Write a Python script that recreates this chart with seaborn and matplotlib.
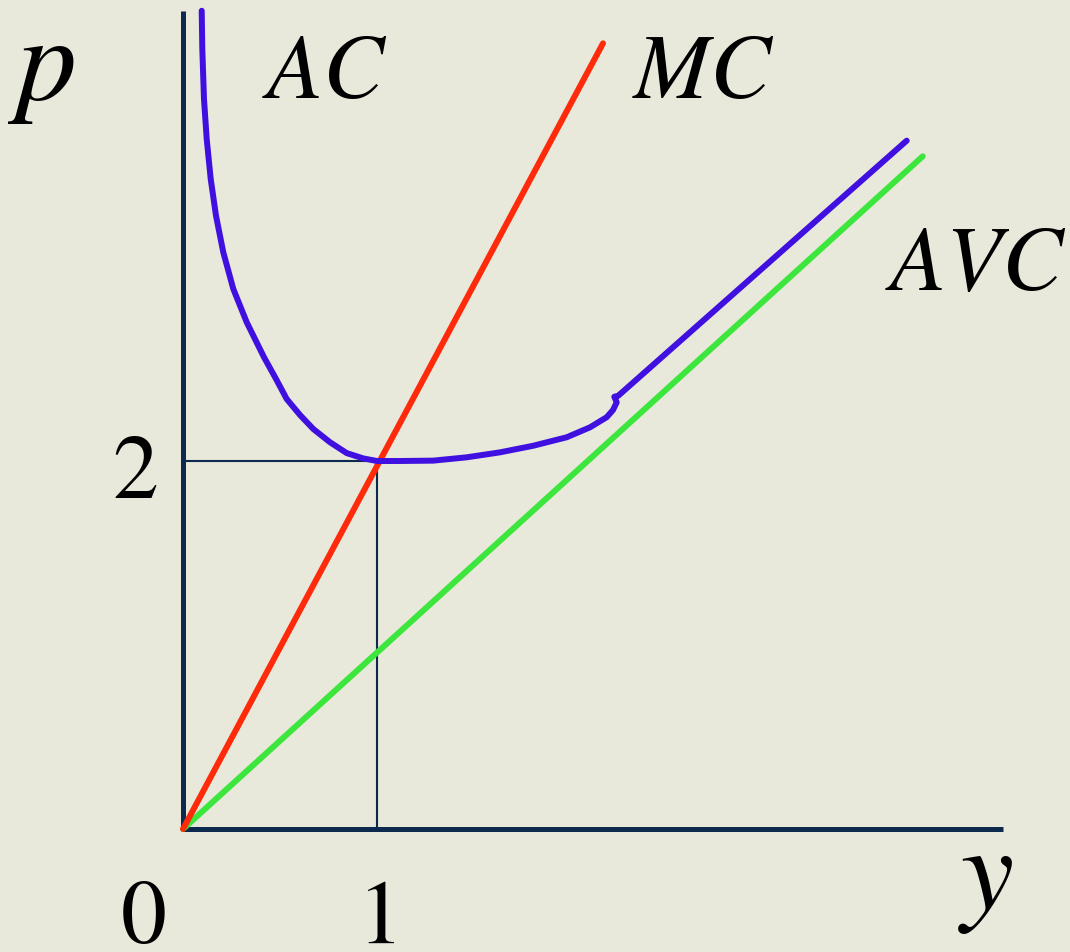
import matplotlib
matplotlib.use("Agg")
import matplotlib.pyplot as plt
import seaborn as sns
import pandas as pd

# Cost curves of a firm: output y against price / cost p
mc_y = [0.0, 2.165]
mc_p = [0.0, 4.27]

avc_y = [0.0, 3.813]
avc_p = [0.0, 3.656]

ac_y = [0.0964, 0.0995, 0.1082, 0.1222, 0.1428, 0.1701, 0.2077, 0.2593, 0.3284,
        0.4175, 0.4794, 0.5345, 0.6031, 0.6716, 0.7577, 0.8438, 0.9294, 1.0,
        1.1186, 1.2902, 1.4624, 1.6340, 1.8057, 1.9778, 2.0979, 2.1840, 2.2165,
        2.2356, 2.2232, 2.2438, 3.7304]
ac_p = [4.447, 4.239, 3.967, 3.750, 3.533, 3.333, 3.134, 2.935, 2.754,
        2.564, 2.446, 2.337, 2.250, 2.174, 2.102, 2.043, 2.014, 2.0,
        2.0, 2.002, 2.020, 2.047, 2.083, 2.129, 2.183, 2.238, 2.277,
        2.319, 2.349, 2.355, 3.741]

# Minimum of AC, marked with guide lines
min_y = 1.0
min_p = 2.0

W, H = 1070, 953
BG = "#E8E8DB"
AXIS = "#0D2A4E"

sns.set_theme(style="white")
plt.rcParams["font.family"] = ["serif"]
plt.rcParams["font.serif"] = ["Liberation Serif", "STIXGeneral", "DejaVu Serif"]
# Times-like letters through mathtext, which carries its own STIX fonts
plt.rcParams["mathtext.fontset"] = "stix"

fig = plt.figure(figsize=(W / 100, H / 100), dpi=100, facecolor=BG)
ax = fig.add_axes([0, 0, 1, 1])
ax.set_facecolor(BG)

# axes of the diagram
ax.plot([0, 0], [0, (830 - 12) / 184], color=AXIS, lw=3.6, solid_capstyle="butt", zorder=2)
ax.plot([0, (1003 - 183) / 194], [0, 0], color=AXIS, lw=3.6, solid_capstyle="butt", zorder=2)

# guide lines to the minimum of AC
ax.plot([min_y, min_y], [0, min_p], color=AXIS, lw=1.5, zorder=2)
ax.plot([0, min_y], [min_p, min_p], color=AXIS, lw=1.5, zorder=2)

sns.lineplot(data=pd.DataFrame({"y": avc_y, "p": avc_p}), x="y", y="p", ax=ax,
             color="#3CE63C", lw=4.3, sort=False, zorder=3)
sns.lineplot(data=pd.DataFrame({"y": mc_y, "p": mc_p}), x="y", y="p", ax=ax,
             color="#FF2A0A", lw=4.3, sort=False, zorder=4)
sns.lineplot(data=pd.DataFrame({"y": ac_y, "p": ac_p}), x="y", y="p", ax=ax,
             color="#3F10E0", lw=4.3, sort=False, zorder=5,
             solid_joinstyle="round")

# data window: origin at (183, 830) px, 194 px per unit of y, 184 px per unit of p
ax.set_xlim(-183 / 194, (W - 183) / 194)
ax.set_ylim(-(H - 830) / 184, 830 / 184)
ax.axis("off")


def label(px, py, s, italic=True, size=66):
    text = f"${s}$" if italic else f"$\\mathrm{{{s}}}$"
    fig.text(px / W, 1 - py / H, text, fontsize=size,
             ha="left", va="baseline", color="black")


label(262, 98, "AC")
label(632, 98, "MC")
label(885, 290, "AVC")
label(8, 99, "p", size=86)
label(958, 909, "y", size=86)
label(112, 498, "2", italic=False)
label(120, 943, "0", italic=False)
label(357, 943, "1", italic=False)

fig.savefig("out.png", dpi=100, facecolor=BG)
